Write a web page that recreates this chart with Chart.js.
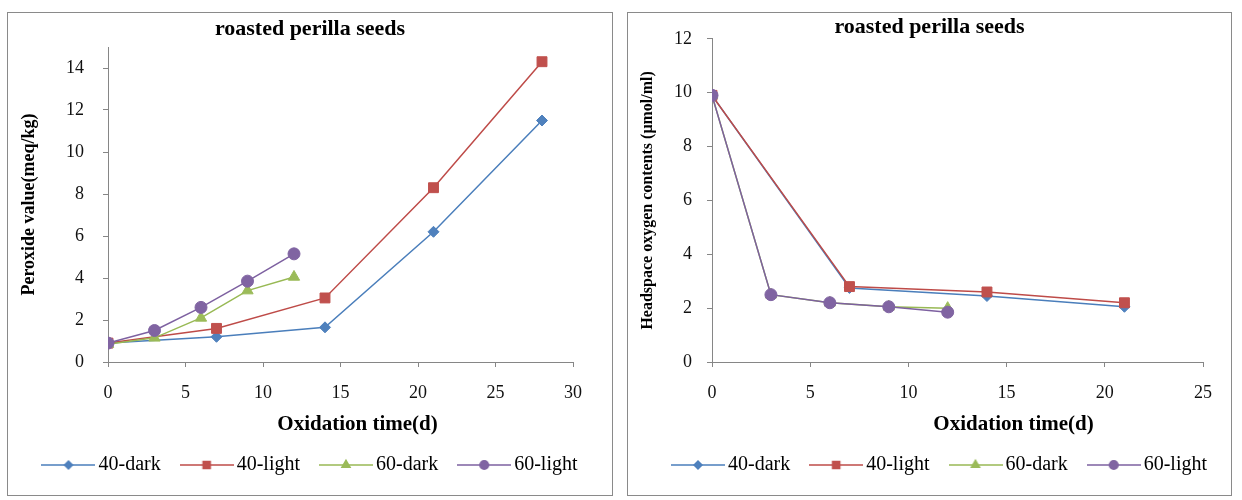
<!DOCTYPE html>
<html>
<head>
<meta charset="utf-8">
<script src="https://cdn.jsdelivr.net/npm/chart.js@4.4.1/dist/chart.umd.min.js"></script>
<style>
  body { margin: 0; background: #fff; width: 1242px; height: 500px; position: relative; overflow: hidden; }
  .panel { position: absolute; border: 1px solid #8a8a8a; background: #fff; }
  #p1 { left: 7px; top: 12px; width: 604px; height: 482px; }
  #p2 { left: 627px; top: 12px; width: 603px; height: 482px; }
  canvas { display: block; }
</style>
</head>
<body>
<div class="panel" id="p1"><canvas id="pvChart" width="604" height="482"></canvas></div>
<div class="panel" id="p2"><canvas id="oxChart" width="603" height="482"></canvas></div>
<script>
// series names and marker shapes (Excel look)
const seriesNames = ['40-dark', '40-light', '60-dark', '60-light'];
const seriesShapes = ['rectRot', 'rect', 'triangle', 'circle'];
const lineColors = ['#4A7EBB', '#BE4B48', '#98B954', '#7D60A0'];
const markColors = ['#4F81BD', '#C0504D', '#9BBB59', '#8064A2'];
const markRadius = [5.5, 7, 6.5, 6];

// left chart: peroxide value (meq/kg)
const pvDays40 = [0, 7, 14, 21, 28];
const pvDays60 = [0, 3, 6, 9, 12];
const pv40dark = [0.9, 1.2, 1.65, 6.2, 11.5];
const pv40light = [0.9, 1.6, 3.05, 8.3, 14.3];
const pv60dark = [0.85, 1.15, 2.1, 3.4, 4.05];
const pv60light = [0.9, 1.5, 2.6, 3.85, 5.15];

// right chart: headspace oxygen contents (umol/ml)
const oxDays40 = [0, 7, 14, 21];
const oxDays60 = [0, 3, 6, 9, 12];
const ox40dark = [9.9, 2.75, 2.45, 2.05];
const ox40light = [9.9, 2.8, 2.6, 2.2];
const ox60dark = [9.9, 2.5, 2.2, 2.05, 2.0];
const ox60light = [9.9, 2.5, 2.2, 2.05, 1.85];

const serif = "'Liberation Serif', 'DejaVu Serif', serif";

function zip(xs, ys) {
    return ys.map((y, i) => ({ x: xs[i], y: y }));
}

function makeDatasets(seriesData) {
    return seriesData.map((pts, i) => ({
        label: seriesNames[i],
        data: pts,
        showLine: true,
        borderColor: lineColors[i],
        borderWidth: 1.5,
        pointStyle: seriesShapes[i],
        pointRadius: markRadius[i],
        pointBackgroundColor: markColors[i],
        pointBorderColor: markColors[i],
        pointBorderWidth: 1,
        order: 4 - i
    }));
}

// legend swatch = short line with a small marker in the middle
function legendSwatch(i) {
    const c = document.createElement('canvas');
    c.width = 54; c.height = 16;
    const ctx = c.getContext('2d');
    ctx.strokeStyle = lineColors[i];
    ctx.lineWidth = 1.5;
    ctx.beginPath(); ctx.moveTo(0, 8); ctx.lineTo(54, 8); ctx.stroke();
    ctx.fillStyle = markColors[i];
    ctx.strokeStyle = markColors[i];
    Chart.helpers.drawPoint(ctx, { pointStyle: seriesShapes[i], radius: markRadius[i] * 0.72, borderWidth: 1 }, 27, 8);
    return c;
}

// x axis title drawn a bit right of centre, like the original
const xTitlePlugin = {
    id: 'xTitle',
    afterDraw(chart, args, opts) {
        const s = chart.scales.x;
        const ctx = chart.ctx;
        ctx.save();
        ctx.font = 'bold 21px ' + serif;
        ctx.fillStyle = '#000';
        ctx.textAlign = 'center';
        ctx.textBaseline = 'middle';
        ctx.fillText(opts.text, (s.left + s.right) / 2 + opts.shift, s.bottom - 4);
        ctx.restore();
    }
};

const legendShift = {
    id: 'legendShift',
    afterLayout(chart, args, opts) {
        chart.legend.left += opts.dx;
        chart.legend.right += opts.dx;
    }
};

function makeOptions(cfg) {
    return {
        responsive: false,
        animation: false,
        layout: { padding: { left: 0, right: 0, top: 0, bottom: 10 } },
        plugins: {
            tooltip: { enabled: false },
            xTitle: { text: 'Oxidation time(d)', shift: cfg.xTitleShift },
            legendShift: { dx: cfg.legendDx },
            title: {
                display: true,
                text: 'roasted perilla seeds',
                color: '#000',
                font: { family: serif, size: 22, weight: 'bold', lineHeight: 1.2 },
                padding: { top: cfg.titleTop, bottom: cfg.titleBottom }
            },
            legend: {
                position: 'bottom',
                labels: {
                    usePointStyle: true,
                    pointStyleWidth: 40,
                    padding: 26,
                    color: '#000',
                    font: { family: serif, size: 20 },
                    generateLabels: () => seriesNames.map((n, i) => ({
                        text: n, pointStyle: legendSwatch(i), fillStyle: markColors[i],
                        strokeStyle: markColors[i], lineWidth: 0, hidden: false, datasetIndex: i, fontColor: '#000'
                    }))
                }
            }
        },
        scales: {
            x: {
                type: 'linear', min: 0, max: cfg.xMax,
                ticks: { stepSize: 5, color: '#111', padding: 15, font: { family: serif, size: 18 }, maxRotation: 0 },
                grid: { display: true, drawOnChartArea: false, drawTicks: true, tickLength: 5, tickColor: '#868686' },
                border: { display: true, color: '#868686', width: 1 },
                afterFit: s => { s.height = 67; }
            },
            y: {
                type: 'linear', min: 0, max: cfg.yMax,
                ticks: { stepSize: 2, includeBounds: false, color: '#111', padding: cfg.yTickPad, font: { family: serif, size: 18 } },
                grid: { display: true, drawOnChartArea: false, drawTicks: true, tickLength: 5, tickColor: '#868686' },
                border: { display: true, color: '#868686', width: 1 },
                title: { display: true, text: cfg.yTitle, color: '#000', padding: { top: cfg.yTitlePad, bottom: 0 },
                         font: { family: serif, size: cfg.yTitleSize, weight: 'bold', lineHeight: 1.2 } },
                afterFit: s => { s.width = cfg.yWidth; }
            },
            // empty right-hand spacer so the legend can use the full width
            spacer: {
                type: 'linear', position: 'right', display: true,
                grid: { display: false }, border: { display: false }, ticks: { display: false },
                afterFit: s => { s.width = cfg.padRight; }
            }
        }
    };
}

new Chart(document.getElementById('pvChart'), {
    type: 'scatter',
    data: {
        datasets: makeDatasets([
            zip(pvDays40, pv40dark), zip(pvDays40, pv40light),
            zip(pvDays60, pv60dark), zip(pvDays60, pv60light)
        ])
    },
    options: makeOptions({
        xMax: 30, yMax: 15, padRight: 39, titleTop: 2.8, titleBottom: 4.8,
        yTickPad: 19, yWidth: 100, yTitle: 'Peroxide value(meq/kg)', yTitleSize: 18, yTitlePad: 11,
        xTitleShift: 17, legendDx: 3
    }),
    plugins: [xTitlePlugin, legendShift]
});

new Chart(document.getElementById('oxChart'), {
    type: 'scatter',
    data: {
        datasets: makeDatasets([
            zip(oxDays40, ox40dark), zip(oxDays40, ox40light),
            zip(oxDays60, ox60dark), zip(oxDays60, ox60light)
        ])
    },
    options: makeOptions({
        xMax: 25, yMax: 12, padRight: 28, titleTop: 0.8, titleBottom: -2,
        yTickPad: 15, yWidth: 84, yTitle: 'Headspace oxygen contents (\u03bcmol/ml)', yTitleSize: 16, yTitlePad: 10,
        xTitleShift: 56, legendDx: 13
    }),
    plugins: [xTitlePlugin, legendShift]
});
</script>
</body>
</html>
